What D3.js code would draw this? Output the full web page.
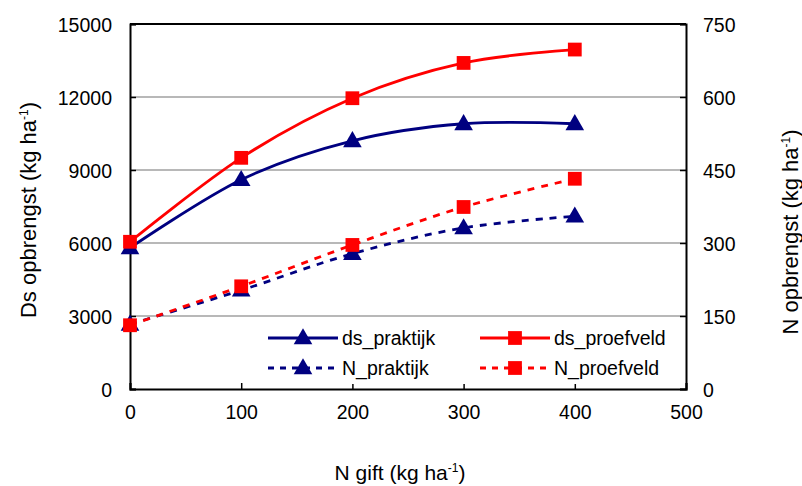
<!DOCTYPE html>
<html><head><meta charset="utf-8">
<script src="https://cdn.jsdelivr.net/npm/d3@7"></script>
<style>body{margin:0;background:#fff}svg{display:block}text{font-family:"Liberation Sans",Arial,sans-serif;fill:#000}</style>
</head><body><svg id="c" width="802" height="486"></svg>
<script>
const nGift = [0, 100, 200, 300, 400];
const dsPraktijk = [5800, 8600, 10200, 10900, 10900];
const dsProefveld = [6050, 9500, 11950, 13400, 13950];
const nPraktijk = [133, 203, 278, 331, 355];
const nProefveld = [131, 211, 296, 374, 432];
const xTicks = [0, 100, 200, 300, 400, 500];
const yLeftTicks = [0, 3000, 6000, 9000, 12000, 15000];
const yRightTicks = [0, 150, 300, 450, 600, 750];

const svg = d3.select("#c");
const L = 130, R = 686, T = 24, B = 389;
const x = d3.scaleLinear().domain([0, 500]).range([L, R]);
const yL = d3.scaleLinear().domain([0, 15000]).range([B, T]);
const yR = d3.scaleLinear().domain([0, 750]).range([B, T]);
const navy = "#000080", red = "#ff0000";

// gridlines
svg.append("g").selectAll("line").data(yLeftTicks.filter(d => d > 0 && d < 15000)).join("line")
  .attr("x1", L).attr("x2", R).attr("y1", d => yL(d)).attr("y2", d => yL(d))
  .attr("stroke", "#a0a0a0").attr("stroke-width", 1.5);

// axes
const fs = "19.5px";
const fmt = d3.format("d");
const axL = svg.append("g").attr("transform", `translate(${L},0)`).call(d3.axisLeft(yL).tickValues(yLeftTicks).tickFormat(fmt).tickSize(-6));
const axR = svg.append("g").attr("transform", `translate(${R},0)`).call(d3.axisRight(yR).tickValues(yRightTicks).tickFormat(fmt).tickSize(-6));
const axB = svg.append("g").attr("transform", `translate(0,${B})`).call(d3.axisBottom(x).tickValues(xTicks).tickFormat(fmt).tickSize(-6));
[axL, axR, axB].forEach(a => {
  a.select(".domain").attr("stroke", "#000").attr("stroke-width", 2);
  a.selectAll(".tick line").attr("stroke", "#000").attr("stroke-width", 1.5);
  a.selectAll(".tick text").style("font-size", fs).style("font-family", '"Liberation Sans",Arial,sans-serif');
});
axL.selectAll(".tick text").attr("x", -18).attr("dy", "0.36em");
axR.selectAll(".tick text").attr("x", 17).attr("dy", "0.36em");
axB.selectAll(".tick text").attr("y", 16);
// top border
svg.append("line").attr("x1", L).attr("x2", R).attr("y1", T).attr("y2", T).attr("stroke", "#000").attr("stroke-width", 2);

// titles
function title(g, main) {
  g.append("tspan").text(main + " (kg ha");
  g.append("tspan").text("-1").attr("dy", -8).style("font-size", "12px");
  g.append("tspan").text(")").attr("dy", 8);
}
title(svg.append("text").attr("transform", "translate(36,210) rotate(-90)").attr("text-anchor", "middle").style("font-size", "22px"), "Ds opbrengst");
title(svg.append("text").attr("transform", "translate(798,232) rotate(-90)").attr("text-anchor", "middle").style("font-size", "22px"), "N opbrengst");
title(svg.append("text").attr("x", 400).attr("y", 480).attr("text-anchor", "middle").style("font-size", "21px"), "N gift");

const series = [
  {name: "ds_praktijk", vals: dsPraktijk, y: yL, color: navy, dash: null, sym: d3.symbolTriangle},
  {name: "ds_proefveld", vals: dsProefveld, y: yL, color: red, dash: null, sym: d3.symbolSquare},
  {name: "N_praktijk", vals: nPraktijk, y: yR, color: navy, dash: "7,7", sym: d3.symbolTriangle},
  {name: "N_proefveld", vals: nProefveld, y: yR, color: red, dash: "7,7", sym: d3.symbolSquare}
];
const symSize = s => s === d3.symbolSquare ? 190 : 150;

[2, 3, 0, 1].forEach(i => {
  const s = series[i];
  const line = d3.line().x((d, j) => x(nGift[j])).y(d => s.y(d)).curve(d3.curveCatmullRom.alpha(0));
  svg.append("path").datum(s.vals).attr("d", line).attr("fill", "none")
    .attr("stroke", s.color).attr("stroke-width", 2.8).attr("stroke-dasharray", s.dash);
});
[2, 3, 0, 1].forEach(i => {
  const s = series[i];
  svg.append("g").selectAll("path").data(s.vals).join("path")
    .attr("transform", (d, j) => `translate(${x(nGift[j])},${s.y(d) + (s.sym === d3.symbolTriangle ? 1 : 0)})`)
    .attr("d", d3.symbol().type(s.sym).size(symSize(s.sym)))
    .attr("fill", s.color);
});

// legend
const leg = svg.append("g");
leg.append("rect").attr("x", 262).attr("y", 322).attr("width", 420).attr("height", 62).attr("fill", "#fff");
const pos = [[268, 338], [480, 338], [268, 368], [480, 368]];
series.forEach((s, i) => {
  const [lx, ly] = pos[i];
  leg.append("line").attr("x1", lx).attr("x2", lx + 70).attr("y1", ly).attr("y2", ly)
    .attr("stroke", s.color).attr("stroke-width", 2.8).attr("stroke-dasharray", s.dash ? "6,6" : null);
  leg.append("path").attr("transform", `translate(${lx + 35},${ly + (s.sym === d3.symbolTriangle ? 1 : 0)})`)
    .attr("d", d3.symbol().type(s.sym).size(symSize(s.sym))).attr("fill", s.color);
  leg.append("text").attr("x", lx + 74).attr("y", ly + 7).style("font-size", fs).text(s.name);
});
</script></body></html>
